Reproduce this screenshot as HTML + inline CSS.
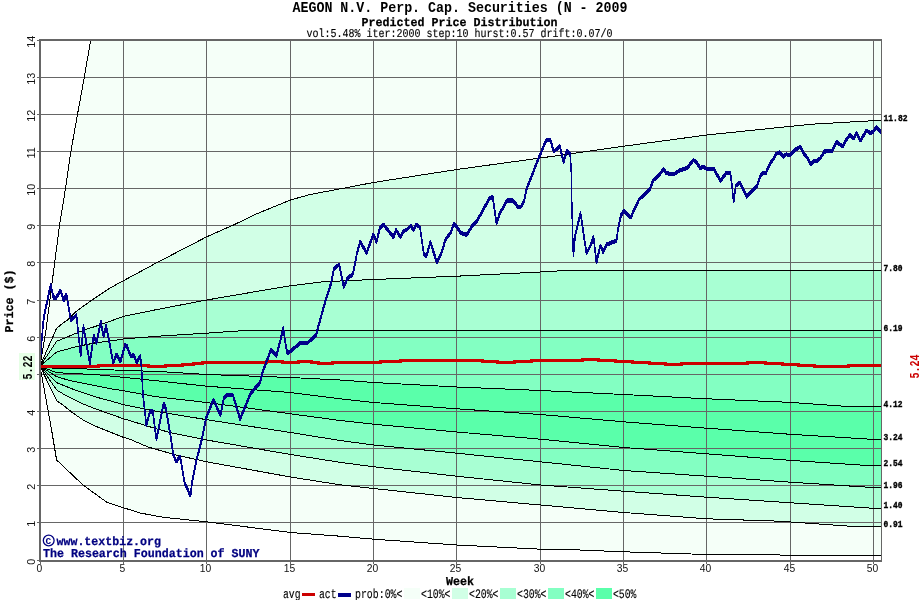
<!DOCTYPE html>
<html><head><meta charset="utf-8"><title>Predicted Price Distribution</title>
<style>html,body{margin:0;padding:0;background:#fff;}body{width:920px;height:600px;position:relative;overflow:hidden;font-family:"Liberation Sans",sans-serif;}</style></head>
<body>
<svg width="920" height="600" viewBox="0 0 920 600" style="position:absolute;left:0;top:0;will-change:transform;-webkit-font-smoothing:antialiased">
<defs><clipPath id="cp"><rect x="40" y="40" width="842" height="521"/></clipPath></defs>
<g shape-rendering="crispEdges" clip-path="url(#cp)">
<polygon points="40.0,366.1 46.0,330.0 56.7,247.0 59.5,225.3 65.5,188.4 70.9,151.4 77.5,114.3 84.3,77.1 90.7,40.0 881.0,40.0 881.0,120.5 873.7,120.7 815.0,124.0 790.6,126.3 706.8,135.0 623.8,146.2 540.5,158.0 456.8,169.5 373.4,182.5 330.0,190.8 310.0,194.5 290.5,200.0 255.0,214.5 235.0,224.3 206.7,236.8 157.5,262.3 123.3,280.8 110.0,288.0 92.0,300.0 76.0,311.5 68.7,319.0 64.0,322.5 56.7,328.0 40.0,366.1" fill="#F5FFF8"/>
<polygon points="40.0,366.1 56.7,328.0 64.0,322.5 68.7,319.0 76.0,311.5 92.0,300.0 110.0,288.0 123.3,280.8 157.5,262.3 206.7,236.8 235.0,224.3 255.0,214.5 290.5,200.0 310.0,194.5 330.0,190.8 373.4,182.5 456.8,169.5 540.5,158.0 623.8,146.2 706.8,135.0 790.6,126.3 815.0,124.0 873.7,120.7 881.0,120.5 881.0,270.3 600.0,270.3 560.0,270.8 540.5,272.0 456.8,276.2 373.4,279.5 322.5,281.8 290.5,285.8 265.0,290.0 206.7,300.0 156.0,309.7 123.3,316.4 112.0,320.6 100.0,324.6 96.0,326.2 85.3,329.6 76.0,333.3 56.7,341.3 40.0,366.1" fill="#D1FFE6"/>
<polygon points="40.0,366.1 56.7,341.3 76.0,333.3 85.3,329.6 96.0,326.2 100.0,324.6 112.0,320.6 123.3,316.4 156.0,309.7 206.7,300.0 265.0,290.0 290.5,285.8 322.5,281.8 373.4,279.5 456.8,276.2 540.5,272.0 560.0,270.8 600.0,270.3 881.0,270.3 881.0,330.3 247.5,330.3 206.7,333.2 157.5,336.2 123.3,339.0 110.0,341.0 96.0,342.7 76.0,346.7 56.7,352.0 40.0,366.1" fill="#A8FFD3"/>
<polygon points="40.0,366.1 56.7,352.0 76.0,346.7 96.0,342.7 110.0,341.0 123.3,339.0 157.5,336.2 206.7,333.2 247.5,330.3 881.0,330.3 881.0,406.5 848.0,406.5 790.6,402.4 706.8,398.8 623.8,394.5 540.5,390.5 456.8,387.0 373.8,382.5 340.0,380.0 290.5,377.5 206.7,374.5 156.0,371.3 130.0,370.7 123.3,370.2 114.0,370.0 82.0,368.8 56.7,368.7 40.0,366.1" fill="#83FFC2"/>
<polygon points="40.0,366.1 56.7,368.7 82.0,368.8 114.0,370.0 123.3,370.2 130.0,370.7 156.0,371.3 206.7,374.5 290.5,377.5 340.0,380.0 373.8,382.5 456.8,387.0 540.5,390.5 623.8,394.5 706.8,398.8 790.6,402.4 848.0,406.5 881.0,406.5 881.0,439.3 872.0,439.3 790.6,434.3 706.8,428.2 623.8,421.8 540.5,414.5 456.8,408.8 373.8,402.5 340.0,398.8 290.5,392.5 206.7,386.2 156.0,380.7 130.0,378.0 123.3,377.3 96.7,374.7 56.7,372.7 40.0,366.1" fill="#5AFFAA"/>
<polygon points="40.0,366.1 56.7,372.7 96.7,374.7 123.3,377.3 130.0,378.0 156.0,380.7 206.7,386.2 290.5,392.5 340.0,398.8 373.8,402.5 456.8,408.8 540.5,414.5 623.8,421.8 706.8,428.2 790.6,434.3 872.0,439.3 881.0,439.3 881.0,465.4 865.6,465.4 790.6,460.4 706.8,453.8 623.8,447.5 540.5,439.2 456.8,432.0 373.8,424.2 340.0,420.5 290.5,413.8 206.7,402.5 156.0,396.7 130.0,392.0 123.3,390.7 110.0,388.7 96.7,386.0 83.3,383.3 73.3,381.3 63.3,378.7 56.7,376.7 40.0,366.1" fill="#5AFFAA"/>
<polygon points="40.0,366.1 56.7,376.7 63.3,378.7 73.3,381.3 83.3,383.3 96.7,386.0 110.0,388.7 123.3,390.7 130.0,392.0 156.0,396.7 206.7,402.5 290.5,413.8 340.0,420.5 373.8,424.2 456.8,432.0 540.5,439.2 623.8,447.5 706.8,453.8 790.6,460.4 865.6,465.4 881.0,465.4 881.0,487.0 865.0,487.0 790.6,482.2 706.8,476.2 623.8,470.5 540.5,461.8 456.8,453.2 373.8,445.0 340.0,440.5 290.5,432.5 206.7,419.7 156.0,411.3 130.0,406.0 123.3,404.7 110.0,400.7 96.7,397.3 83.3,392.7 73.3,389.3 63.3,385.3 56.7,382.7 40.0,366.1" fill="#83FFC2"/>
<polygon points="40.0,366.1 56.7,382.7 63.3,385.3 73.3,389.3 83.3,392.7 96.7,397.3 110.0,400.7 123.3,404.7 130.0,406.0 156.0,411.3 206.7,419.7 290.5,432.5 340.0,440.5 373.8,445.0 456.8,453.2 540.5,461.8 623.8,470.5 706.8,476.2 790.6,482.2 865.0,487.0 881.0,487.0 881.0,508.2 872.0,508.2 790.6,502.8 706.8,497.2 623.8,491.2 540.5,485.0 456.8,476.2 373.8,466.8 340.0,462.3 290.5,454.5 206.7,440.0 172.0,433.0 156.0,428.7 130.0,420.7 123.3,418.7 110.0,414.0 96.7,409.3 83.3,404.0 73.3,399.3 63.3,394.0 56.7,390.0 40.0,366.1" fill="#A8FFD3"/>
<polygon points="40.0,366.1 56.7,390.0 63.3,394.0 73.3,399.3 83.3,404.0 96.7,409.3 110.0,414.0 123.3,418.7 130.0,420.7 156.0,428.7 172.0,433.0 206.7,440.0 290.5,454.5 340.0,462.3 373.8,466.8 456.8,476.2 540.5,485.0 623.8,491.2 706.8,497.2 790.6,502.8 872.0,508.2 881.0,508.2 881.0,526.2 850.0,526.2 780.0,521.2 706.8,518.8 623.8,512.5 540.5,505.0 456.8,497.5 373.8,488.5 340.0,484.8 290.5,477.0 206.7,461.8 176.0,455.0 148.0,447.0 130.0,439.3 123.3,437.3 110.0,432.0 96.7,426.7 83.3,420.0 73.3,413.3 63.3,405.3 56.7,400.7 40.0,366.1" fill="#D1FFE6"/>
<polygon points="40.0,366.1 56.7,400.7 63.3,405.3 73.3,413.3 83.3,420.0 96.7,426.7 110.0,432.0 123.3,437.3 130.0,439.3 148.0,447.0 176.0,455.0 206.7,461.8 290.5,477.0 340.0,484.8 373.8,488.5 456.8,497.5 540.5,505.0 623.8,512.5 706.8,518.8 780.0,521.2 850.0,526.2 881.0,526.2 881.0,555.0 780.0,555.0 706.8,554.5 623.8,551.8 560.0,549.2 540.5,549.2 456.8,545.0 373.8,539.2 340.0,536.2 290.5,532.5 206.7,521.8 164.0,517.4 140.0,513.0 124.0,507.9 107.0,502.4 83.0,485.0 56.6,460.0 51.6,430.0 40.0,366.1" fill="#F5FFF8"/>
</g>
<g shape-rendering="crispEdges" stroke="#666666" stroke-width="1" fill="none">
<line x1="123.5" y1="40" x2="123.5" y2="561"/>
<line x1="206.5" y1="40" x2="206.5" y2="561"/>
<line x1="290.5" y1="40" x2="290.5" y2="561"/>
<line x1="373.5" y1="40" x2="373.5" y2="561"/>
<line x1="456.5" y1="40" x2="456.5" y2="561"/>
<line x1="540.5" y1="40" x2="540.5" y2="561"/>
<line x1="623.5" y1="40" x2="623.5" y2="561"/>
<line x1="706.5" y1="40" x2="706.5" y2="561"/>
<line x1="790.5" y1="40" x2="790.5" y2="561"/>
<line x1="873.5" y1="40" x2="873.5" y2="561"/>
<line x1="40" y1="522.5" x2="882" y2="522.5"/>
<line x1="40" y1="485.5" x2="882" y2="485.5"/>
<line x1="40" y1="448.5" x2="882" y2="448.5"/>
<line x1="40" y1="411.5" x2="882" y2="411.5"/>
<line x1="40" y1="374.5" x2="882" y2="374.5"/>
<line x1="40" y1="337.5" x2="882" y2="337.5"/>
<line x1="40" y1="300.5" x2="882" y2="300.5"/>
<line x1="40" y1="262.5" x2="882" y2="262.5"/>
<line x1="40" y1="225.5" x2="882" y2="225.5"/>
<line x1="40" y1="188.5" x2="882" y2="188.5"/>
<line x1="40" y1="151.5" x2="882" y2="151.5"/>
<line x1="40" y1="114.5" x2="882" y2="114.5"/>
<line x1="40" y1="77.5" x2="882" y2="77.5"/>
</g>
<g shape-rendering="crispEdges" stroke="#000" stroke-width="1" fill="none" clip-path="url(#cp)">
<polyline points="40.0,366.1 46.0,330.0 56.7,247.0 59.5,225.3 65.5,188.4 70.9,151.4 77.5,114.3 84.3,77.1 90.7,40.0"/>
<polyline points="40.0,366.1 56.7,328.0 64.0,322.5 68.7,319.0 76.0,311.5 92.0,300.0 110.0,288.0 123.3,280.8 157.5,262.3 206.7,236.8 235.0,224.3 255.0,214.5 290.5,200.0 310.0,194.5 330.0,190.8 373.4,182.5 456.8,169.5 540.5,158.0 623.8,146.2 706.8,135.0 790.6,126.3 815.0,124.0 873.7,120.7 881.0,120.5"/>
<polyline points="40.0,366.1 56.7,341.3 76.0,333.3 85.3,329.6 96.0,326.2 100.0,324.6 112.0,320.6 123.3,316.4 156.0,309.7 206.7,300.0 265.0,290.0 290.5,285.8 322.5,281.8 373.4,279.5 456.8,276.2 540.5,272.0 560.0,270.8 600.0,270.3 881.0,270.3"/>
<polyline points="40.0,366.1 56.7,352.0 76.0,346.7 96.0,342.7 110.0,341.0 123.3,339.0 157.5,336.2 206.7,333.2 247.5,330.3 881.0,330.3"/>
<polyline points="40.0,366.1 56.7,368.7 82.0,368.8 114.0,370.0 123.3,370.2 130.0,370.7 156.0,371.3 206.7,374.5 290.5,377.5 340.0,380.0 373.8,382.5 456.8,387.0 540.5,390.5 623.8,394.5 706.8,398.8 790.6,402.4 848.0,406.5 881.0,406.5"/>
<polyline points="40.0,366.1 56.7,372.7 96.7,374.7 123.3,377.3 130.0,378.0 156.0,380.7 206.7,386.2 290.5,392.5 340.0,398.8 373.8,402.5 456.8,408.8 540.5,414.5 623.8,421.8 706.8,428.2 790.6,434.3 872.0,439.3 881.0,439.3"/>
<polyline points="40.0,366.1 56.7,376.7 63.3,378.7 73.3,381.3 83.3,383.3 96.7,386.0 110.0,388.7 123.3,390.7 130.0,392.0 156.0,396.7 206.7,402.5 290.5,413.8 340.0,420.5 373.8,424.2 456.8,432.0 540.5,439.2 623.8,447.5 706.8,453.8 790.6,460.4 865.6,465.4 881.0,465.4"/>
<polyline points="40.0,366.1 56.7,382.7 63.3,385.3 73.3,389.3 83.3,392.7 96.7,397.3 110.0,400.7 123.3,404.7 130.0,406.0 156.0,411.3 206.7,419.7 290.5,432.5 340.0,440.5 373.8,445.0 456.8,453.2 540.5,461.8 623.8,470.5 706.8,476.2 790.6,482.2 865.0,487.0 881.0,487.0"/>
<polyline points="40.0,366.1 56.7,390.0 63.3,394.0 73.3,399.3 83.3,404.0 96.7,409.3 110.0,414.0 123.3,418.7 130.0,420.7 156.0,428.7 172.0,433.0 206.7,440.0 290.5,454.5 340.0,462.3 373.8,466.8 456.8,476.2 540.5,485.0 623.8,491.2 706.8,497.2 790.6,502.8 872.0,508.2 881.0,508.2"/>
<polyline points="40.0,366.1 56.7,400.7 63.3,405.3 73.3,413.3 83.3,420.0 96.7,426.7 110.0,432.0 123.3,437.3 130.0,439.3 148.0,447.0 176.0,455.0 206.7,461.8 290.5,477.0 340.0,484.8 373.8,488.5 456.8,497.5 540.5,505.0 623.8,512.5 706.8,518.8 780.0,521.2 850.0,526.2 881.0,526.2"/>
<polyline points="40.0,366.1 51.6,430.0 56.6,460.0 83.0,485.0 107.0,502.4 124.0,507.9 140.0,513.0 164.0,517.4 206.7,521.8 290.5,532.5 340.0,536.2 373.8,539.2 456.8,545.0 540.5,549.2 560.0,549.2 623.8,551.8 706.8,554.5 780.0,555.0 881.0,555.0"/>
</g>
<polyline shape-rendering="crispEdges" points="40.0,366.5 98.0,366.5 98.0,365.5 148.0,365.5 148.0,366.5 165.3,366.5 165.3,365.5 182.4,365.5 182.4,364.5 193.8,364.5 193.8,363.5 202.8,363.5 202.8,362.5 266.4,362.5 266.4,361.5 282.0,361.5 282.0,362.5 298.0,362.5 298.0,361.5 311.0,361.5 311.0,362.5 318.0,362.5 318.0,363.5 332.0,363.5 332.0,362.5 380.0,362.5 380.0,361.5 400.0,361.5 400.0,360.5 482.0,360.5 482.0,361.5 497.5,361.5 497.5,362.5 514.5,362.5 514.5,361.5 531.5,361.5 531.5,360.5 582.0,360.5 582.0,359.5 598.0,359.5 598.0,360.5 615.0,360.5 615.0,361.5 632.0,361.5 632.0,362.5 649.0,362.5 649.0,363.5 665.0,363.5 665.0,364.5 681.0,364.5 681.0,363.5 747.0,363.5 747.0,362.5 765.0,362.5 765.0,363.5 782.0,363.5 782.0,364.5 798.0,364.5 798.0,365.5 814.5,365.5 814.5,366.5 848.0,366.5 848.0,365.5 882.0,365.5" fill="none" stroke="#CC0000" stroke-width="3" stroke-linejoin="miter"/>
<g shape-rendering="crispEdges" fill="none" stroke="#00008B" stroke-linejoin="bevel" stroke-linecap="butt">
<polyline points="40.0,364.6 41.4,343.6 43.1,322.1 44.7,311.2 47.4,299.3 50.7,283.5 53.4,296.0 56.1,296.5 60.5,288.9 63.7,299.3 66.4,292.7 70.8,318.8 74.0,316.1 76.4,313.6 80.7,354.5 83.4,324.6 89.9,362.1 93.7,333.8 96.4,342.0 100.8,320.2 103.5,334.9 106.2,324.6 113.3,361.5 116.5,352.8 120.3,360.4 125.2,343.6 126.8,344.6 130.7,354.5 133.9,353.9 136.6,361.0 140.4,354.5 141.5,366.4 143.0,393.2 146.3,423.6 150.1,410.0 152.8,410.0 156.4,438.1 163.7,401.9 165.9,407.3 170.4,433.6 173.2,453.2 176.4,460.2 180.2,454.8 181.8,465.1 184.6,481.4 190.5,494.5 192.2,480.3 196.5,458.6 201.7,438.6 205.9,417.3 213.5,398.3 220.5,414.0 223.8,396.6 226.5,393.9 233.0,393.9 240.1,417.8 250.4,392.3 255.9,385.8 260.1,381.0 262.8,370.1 271.0,348.4 276.4,354.4 280.2,339.7 283.3,326.4 285.2,340.6 287.3,351.6 291.1,349.5 299.8,341.9 307.7,341.3 316.0,333.8 318.2,325.6 325.7,298.6 331.0,282.1 334.0,267.1 339.2,263.3 343.7,285.8 347.5,276.8 352.7,273.1 355.0,262.6 357.0,251.4 360.2,240.6 366.7,251.4 373.3,232.9 376.5,240.6 379.8,227.0 383.6,223.2 393.4,235.7 396.1,228.6 400.4,235.7 403.7,229.7 407.0,228.1 410.8,224.3 413.5,228.6 416.2,223.2 420.0,225.9 423.8,252.5 426.5,254.7 430.3,240.6 436.8,260.7 441.0,253.1 445.5,238.1 450.7,231.3 453.7,222.3 456.7,225.3 460.5,231.3 466.5,233.6 473.2,223.1 476.2,220.8 483.0,208.8 489.0,197.6 492.7,195.3 496.5,222.3 499.5,212.6 507.0,199.1 513.0,199.1 518.2,205.8 521.2,205.1 524.2,199.1 526.5,187.8 538.0,158.4 546.2,138.8 550.5,138.8 553.8,150.2 559.8,144.8 563.6,160.6 566.8,149.1 570.1,152.4 571.2,169.3 571.8,201.1 572.7,234.1 573.4,254.3 575.2,234.1 580.5,211.6 586.5,252.1 591.0,243.1 593.5,235.6 596.5,261.1 600.4,243.8 603.0,250.6 606.7,243.1 616.5,239.3 618.0,228.1 621.0,213.8 624.0,209.3 630.7,216.1 633.7,209.3 639.0,198.1 645.0,192.4 649.9,188.1 653.2,178.8 659.1,173.9 663.5,167.4 666.2,171.8 673.8,172.8 679.8,169.0 687.4,166.3 693.4,158.7 696.1,160.3 700.4,166.9 703.2,165.2 707.0,167.9 714.0,167.9 720.5,179.4 726.5,171.2 730.3,171.2 732.0,184.3 733.6,200.6 735.8,184.3 739.6,181.0 746.7,195.4 752.5,189.0 756.6,185.5 760.1,175.6 762.4,171.5 765.9,171.5 770.0,162.2 773.5,157.5 776.4,152.3 779.9,151.1 783.4,155.2 786.3,152.9 789.8,154.0 795.7,148.2 800.3,145.3 804.4,152.9 807.3,156.4 810.8,162.8 813.8,159.9 816.7,159.9 820.2,156.9 824.5,150.1 832.0,149.6 836.5,140.6 843.0,145.1 846.0,138.6 850.0,133.6 853.5,137.1 856.5,131.6 860.5,139.1 866.5,129.1 870.0,131.6 873.0,130.6 876.5,125.6 881.0,130.6" stroke-width="1.4"/>
<polyline points="40.0,365.5 41.4,344.5 43.1,323.0 44.7,312.1 47.4,300.2 50.7,284.4 53.4,296.9 56.1,297.4 60.5,289.8 63.7,300.2 66.4,293.6 70.8,319.7 74.0,317.0 76.4,314.5 80.7,355.4 83.4,325.5 89.9,363.0 93.7,334.7 96.4,342.9 100.8,321.1 103.5,335.8 106.2,325.5 113.3,362.4 116.5,353.7 120.3,361.3 125.2,344.5 126.8,345.5 130.7,355.4 133.9,354.8 136.6,361.9 140.4,355.4 141.5,367.3 143.0,394.1 146.3,424.5 150.1,410.9 152.8,410.9 156.4,439.0 163.7,402.8 165.9,408.2 170.4,434.5 173.2,454.1 176.4,461.1 180.2,455.7 181.8,466.0 184.6,482.3 190.5,495.4 192.2,481.2 196.5,459.5 201.7,439.5 205.9,418.2 213.5,399.2 220.5,414.9 223.8,397.5 226.5,394.8 233.0,394.8 240.1,418.7 250.4,393.2 255.9,386.7 260.1,381.9 262.8,371.0 271.0,349.3 276.4,355.3 280.2,340.6 283.3,327.3 285.2,341.5 287.3,352.5 291.1,350.4 299.8,342.8 307.7,342.2 316.0,334.7 318.2,326.5 325.7,299.5 331.0,283.0 334.0,268.0 339.2,264.2 343.7,286.7 347.5,277.7 352.7,274.0 355.0,263.5 357.0,252.3 360.2,241.5 366.7,252.3 373.3,233.8 376.5,241.5 379.8,227.9 383.6,224.1 393.4,236.6 396.1,229.5 400.4,236.6 403.7,230.6 407.0,229.0 410.8,225.2 413.5,229.5 416.2,224.1 420.0,226.8 423.8,253.4 426.5,255.6 430.3,241.5 436.8,261.6 441.0,254.0 445.5,239.0 450.7,232.2 453.7,223.2 456.7,226.2 460.5,232.2 466.5,234.5 473.2,224.0 476.2,221.7 483.0,209.7 489.0,198.5 492.7,196.2 496.5,223.2 499.5,213.5 507.0,200.0 513.0,200.0 518.2,206.7 521.2,206.0 524.2,200.0 526.5,188.7 538.0,159.3 546.2,139.7 550.5,139.7 553.8,151.1 559.8,145.7 563.6,161.5 566.8,150.0 570.1,153.3 571.2,170.2 571.8,202.0 572.7,235.0 573.4,255.2 575.2,235.0 580.5,212.5 586.5,253.0 591.0,244.0 593.5,236.5 596.5,262.0 600.4,244.7 603.0,251.5 606.7,244.0 616.5,240.2 618.0,229.0 621.0,214.7 624.0,210.2 630.7,217.0 633.7,210.2 639.0,199.0 645.0,193.3 649.9,189.0 653.2,179.7 659.1,174.8 663.5,168.3 666.2,172.7 673.8,173.7 679.8,169.9 687.4,167.2 693.4,159.6 696.1,161.2 700.4,167.8 703.2,166.1 707.0,168.8 714.0,168.8 720.5,180.3 726.5,172.1 730.3,172.1 732.0,185.2 733.6,201.5 735.8,185.2 739.6,181.9 746.7,196.3 752.5,189.9 756.6,186.4 760.1,176.5 762.4,172.4 765.9,172.4 770.0,163.1 773.5,158.4 776.4,153.2 779.9,152.0 783.4,156.1 786.3,153.8 789.8,154.9 795.7,149.1 800.3,146.2 804.4,153.8 807.3,157.3 810.8,163.7 813.8,160.8 816.7,160.8 820.2,157.8 824.5,151.0 832.0,150.5 836.5,141.5 843.0,146.0 846.0,139.5 850.0,134.5 853.5,138.0 856.5,132.5 860.5,140.0 866.5,130.0 870.0,132.5 873.0,131.5 876.5,126.5 881.0,131.5" stroke-width="1.4"/>
<polyline points="40.0,366.5 41.4,345.5 43.1,324.0 44.7,313.1 47.4,301.2 50.7,285.4 53.4,297.9 56.1,298.4 60.5,290.8 63.7,301.2 66.4,294.6 70.8,320.7 74.0,318.0 76.4,315.5 80.7,356.4 83.4,326.5 89.9,364.0 93.7,335.7 96.4,343.9 100.8,322.1 103.5,336.8 106.2,326.5 113.3,363.4 116.5,354.7 120.3,362.3 125.2,345.5 126.8,346.5 130.7,356.4 133.9,355.8 136.6,362.9 140.4,356.4 141.5,368.3 143.0,395.1 146.3,425.5 150.1,411.9 152.8,411.9 156.4,440.0 163.7,403.8 165.9,409.2 170.4,435.5 173.2,455.1 176.4,462.1 180.2,456.7 181.8,467.0 184.6,483.3 190.5,496.4 192.2,482.2 196.5,460.5 201.7,440.5 205.9,419.2 213.5,400.2 220.5,415.9 223.8,398.5 226.5,395.8 233.0,395.8 240.1,419.7 250.4,394.2 255.9,387.7 260.1,382.9 262.8,372.0 271.0,350.3 276.4,356.3 280.2,341.6 283.3,328.3 285.2,342.5 287.3,353.5 291.1,351.4 299.8,343.8 307.7,343.2 316.0,335.7 318.2,327.5 325.7,300.5 331.0,284.0 334.0,269.0 339.2,265.2 343.7,287.7 347.5,278.7 352.7,275.0 355.0,264.5 357.0,253.3 360.2,242.5 366.7,253.3 373.3,234.8 376.5,242.5 379.8,228.9 383.6,225.1 393.4,237.6 396.1,230.5 400.4,237.6 403.7,231.6 407.0,230.0 410.8,226.2 413.5,230.5 416.2,225.1 420.0,227.8 423.8,254.4 426.5,256.6 430.3,242.5 436.8,262.6 441.0,255.0 445.5,240.0 450.7,233.2 453.7,224.2 456.7,227.2 460.5,233.2 466.5,235.5 473.2,225.0 476.2,222.7 483.0,210.7 489.0,199.5 492.7,197.2 496.5,224.2 499.5,214.5 507.0,201.0 513.0,201.0 518.2,207.7 521.2,207.0 524.2,201.0 526.5,189.7 538.0,160.3 546.2,140.7 550.5,140.7 553.8,152.1 559.8,146.7 563.6,162.5 566.8,151.0 570.1,154.3 571.2,171.2 571.8,203.0 572.7,236.0 573.4,256.2 575.2,236.0 580.5,213.5 586.5,254.0 591.0,245.0 593.5,237.5 596.5,263.0 600.4,245.7 603.0,252.5 606.7,245.0 616.5,241.2 618.0,230.0 621.0,215.7 624.0,211.2 630.7,218.0 633.7,211.2 639.0,200.0 645.0,194.3 649.9,190.0 653.2,180.7 659.1,175.8 663.5,169.3 666.2,173.7 673.8,174.7 679.8,170.9 687.4,168.2 693.4,160.6 696.1,162.2 700.4,168.8 703.2,167.1 707.0,169.8 714.0,169.8 720.5,181.3 726.5,173.1 730.3,173.1 732.0,186.2 733.6,202.5 735.8,186.2 739.6,182.9 746.7,197.3 752.5,190.9 756.6,187.4 760.1,177.5 762.4,173.4 765.9,173.4 770.0,164.1 773.5,159.4 776.4,154.2 779.9,153.0 783.4,157.1 786.3,154.8 789.8,155.9 795.7,150.1 800.3,147.2 804.4,154.8 807.3,158.3 810.8,164.7 813.8,161.8 816.7,161.8 820.2,158.8 824.5,152.0 832.0,151.5 836.5,142.5 843.0,147.0 846.0,140.5 850.0,135.5 853.5,139.0 856.5,133.5 860.5,141.0 866.5,131.0 870.0,133.5 873.0,132.5 876.5,127.5 881.0,132.5" stroke-width="1.4"/>
<polyline points="40.0,367.4 41.4,346.4 43.1,324.9 44.7,314.0 47.4,302.1 50.7,286.3 53.4,298.8 56.1,299.3 60.5,291.7 63.7,302.1 66.4,295.5 70.8,321.6 74.0,318.9 76.4,316.4 80.7,357.3 83.4,327.4 89.9,364.9 93.7,336.6 96.4,344.8 100.8,323.0 103.5,337.7 106.2,327.4 113.3,364.3 116.5,355.6 120.3,363.2 125.2,346.4 126.8,347.4 130.7,357.3 133.9,356.7 136.6,363.8 140.4,357.3 141.5,369.2 143.0,396.0 146.3,426.4 150.1,412.8 152.8,412.8 156.4,440.9 163.7,404.7 165.9,410.1 170.4,436.4 173.2,456.0 176.4,463.0 180.2,457.6 181.8,467.9 184.6,484.2 190.5,497.3 192.2,483.1 196.5,461.4 201.7,441.4 205.9,420.1 213.5,401.1 220.5,416.8 223.8,399.4 226.5,396.7 233.0,396.7 240.1,420.6 250.4,395.1 255.9,388.6 260.1,383.8 262.8,372.9 271.0,351.2 276.4,357.2 280.2,342.5 283.3,329.2 285.2,343.4 287.3,354.4 291.1,352.3 299.8,344.7 307.7,344.1 316.0,336.6 318.2,328.4 325.7,301.4 331.0,284.9 334.0,269.9 339.2,266.1 343.7,288.6 347.5,279.6 352.7,275.9 355.0,265.4 357.0,254.2 360.2,243.4 366.7,254.2 373.3,235.7 376.5,243.4 379.8,229.8 383.6,226.0 393.4,238.5 396.1,231.4 400.4,238.5 403.7,232.5 407.0,230.9 410.8,227.1 413.5,231.4 416.2,226.0 420.0,228.7 423.8,255.3 426.5,257.5 430.3,243.4 436.8,263.5 441.0,255.9 445.5,240.9 450.7,234.1 453.7,225.1 456.7,228.1 460.5,234.1 466.5,236.4 473.2,225.9 476.2,223.6 483.0,211.6 489.0,200.4 492.7,198.1 496.5,225.1 499.5,215.4 507.0,201.9 513.0,201.9 518.2,208.6 521.2,207.9 524.2,201.9 526.5,190.6 538.0,161.2 546.2,141.6 550.5,141.6 553.8,153.0 559.8,147.6 563.6,163.4 566.8,151.9 570.1,155.2 571.2,172.1 571.8,203.9 572.7,236.9 573.4,257.1 575.2,236.9 580.5,214.4 586.5,254.9 591.0,245.9 593.5,238.4 596.5,263.9 600.4,246.6 603.0,253.4 606.7,245.9 616.5,242.1 618.0,230.9 621.0,216.6 624.0,212.1 630.7,218.9 633.7,212.1 639.0,200.9 645.0,195.2 649.9,190.9 653.2,181.6 659.1,176.7 663.5,170.2 666.2,174.6 673.8,175.6 679.8,171.8 687.4,169.1 693.4,161.5 696.1,163.1 700.4,169.7 703.2,168.0 707.0,170.7 714.0,170.7 720.5,182.2 726.5,174.0 730.3,174.0 732.0,187.1 733.6,203.4 735.8,187.1 739.6,183.8 746.7,198.2 752.5,191.8 756.6,188.3 760.1,178.4 762.4,174.3 765.9,174.3 770.0,165.0 773.5,160.3 776.4,155.1 779.9,153.9 783.4,158.0 786.3,155.7 789.8,156.8 795.7,151.0 800.3,148.1 804.4,155.7 807.3,159.2 810.8,165.6 813.8,162.7 816.7,162.7 820.2,159.7 824.5,152.9 832.0,152.4 836.5,143.4 843.0,147.9 846.0,141.4 850.0,136.4 853.5,139.9 856.5,134.4 860.5,141.9 866.5,131.9 870.0,134.4 873.0,133.4 876.5,128.4 881.0,133.4" stroke-width="1.4"/>
</g>
<g shape-rendering="crispEdges" fill="#666666">
<rect x="39" y="39" width="2" height="523"/>
<rect x="39" y="39" width="843" height="2"/>
<rect x="39" y="560" width="843" height="2"/>
<rect x="881" y="39" width="1" height="523"/>
<rect x="37" y="560" width="2" height="1"/>
<rect x="37" y="522" width="2" height="1"/>
<rect x="37" y="485" width="2" height="1"/>
<rect x="37" y="448" width="2" height="1"/>
<rect x="37" y="411" width="2" height="1"/>
<rect x="37" y="374" width="2" height="1"/>
<rect x="37" y="337" width="2" height="1"/>
<rect x="37" y="300" width="2" height="1"/>
<rect x="37" y="262" width="2" height="1"/>
<rect x="37" y="225" width="2" height="1"/>
<rect x="37" y="188" width="2" height="1"/>
<rect x="37" y="151" width="2" height="1"/>
<rect x="37" y="114" width="2" height="1"/>
<rect x="37" y="77" width="2" height="1"/>
<rect x="37" y="40" width="2" height="1"/>
<rect x="40" y="562" width="1" height="2"/>
<rect x="123" y="562" width="1" height="2"/>
<rect x="206" y="562" width="1" height="2"/>
<rect x="290" y="562" width="1" height="2"/>
<rect x="373" y="562" width="1" height="2"/>
<rect x="456" y="562" width="1" height="2"/>
<rect x="540" y="562" width="1" height="2"/>
<rect x="623" y="562" width="1" height="2"/>
<rect x="706" y="562" width="1" height="2"/>
<rect x="790" y="562" width="1" height="2"/>
<rect x="873" y="562" width="1" height="2"/>
</g>
<g font-family="Liberation Sans, sans-serif" font-size="10.3px" fill="#111">
<text x="39.4" y="572" text-anchor="middle">0</text>
<text x="122.4" y="572" text-anchor="middle">5</text>
<text x="205.4" y="572" text-anchor="middle">10</text>
<text x="289.4" y="572" text-anchor="middle">15</text>
<text x="372.4" y="572" text-anchor="middle">20</text>
<text x="455.4" y="572" text-anchor="middle">25</text>
<text x="539.4" y="572" text-anchor="middle">30</text>
<text x="622.4" y="572" text-anchor="middle">35</text>
<text x="705.4" y="572" text-anchor="middle">40</text>
<text x="789.4" y="572" text-anchor="middle">45</text>
<text x="872.4" y="572" text-anchor="middle">50</text>
<text transform="translate(35,561.8) rotate(-90)" text-anchor="middle" font-size="10.8px">0</text>
<text transform="translate(35,523.8) rotate(-90)" text-anchor="middle" font-size="10.8px">1</text>
<text transform="translate(35,486.8) rotate(-90)" text-anchor="middle" font-size="10.8px">2</text>
<text transform="translate(35,449.8) rotate(-90)" text-anchor="middle" font-size="10.8px">3</text>
<text transform="translate(35,412.8) rotate(-90)" text-anchor="middle" font-size="10.8px">4</text>
<text transform="translate(35,338.8) rotate(-90)" text-anchor="middle" font-size="10.8px">6</text>
<text transform="translate(35,301.8) rotate(-90)" text-anchor="middle" font-size="10.8px">7</text>
<text transform="translate(35,263.8) rotate(-90)" text-anchor="middle" font-size="10.8px">8</text>
<text transform="translate(35,226.8) rotate(-90)" text-anchor="middle" font-size="10.8px">9</text>
<text transform="translate(35,189.8) rotate(-90)" text-anchor="middle" font-size="10.8px">10</text>
<text transform="translate(35,152.8) rotate(-90)" text-anchor="middle" font-size="10.8px">11</text>
<text transform="translate(35,115.8) rotate(-90)" text-anchor="middle" font-size="10.8px">12</text>
<text transform="translate(35,78.8) rotate(-90)" text-anchor="middle" font-size="10.8px">13</text>
<text transform="translate(35,41.8) rotate(-90)" text-anchor="middle" font-size="10.8px">14</text>
</g>
<g font-family="Liberation Mono, monospace" font-size="8.6px" font-weight="bold" fill="#000" stroke="#000" stroke-width="0.35">
<text x="883.5" y="121.0" textLength="24" lengthAdjust="spacingAndGlyphs">11.82</text>
<text x="883.5" y="270.8" textLength="19" lengthAdjust="spacingAndGlyphs">7.80</text>
<text x="883.5" y="330.8" textLength="19" lengthAdjust="spacingAndGlyphs">6.19</text>
<text x="883.5" y="407.0" textLength="19" lengthAdjust="spacingAndGlyphs">4.12</text>
<text x="883.5" y="439.8" textLength="19" lengthAdjust="spacingAndGlyphs">3.24</text>
<text x="883.5" y="465.9" textLength="19" lengthAdjust="spacingAndGlyphs">2.54</text>
<text x="883.5" y="487.5" textLength="19" lengthAdjust="spacingAndGlyphs">1.96</text>
<text x="883.5" y="508.3" textLength="19" lengthAdjust="spacingAndGlyphs">1.40</text>
<text x="883.5" y="526.7" textLength="19" lengthAdjust="spacingAndGlyphs">0.91</text>
</g>
<g font-family="Liberation Mono, monospace" fill="#000">
<text transform="translate(292.5,11.6) scale(1,1.12)" x="0" y="0" font-size="13.33px" font-weight="bold" textLength="335" lengthAdjust="spacing">AEGON N.V. Perp. Cap. Securities (N - 2009</text>
<text transform="translate(361.5,26) rotate(0.03) scale(1,1.03)" x="0" y="0" font-size="11.67px" font-weight="bold" stroke="#000" stroke-width="0.25" textLength="196" lengthAdjust="spacingAndGlyphs">Predicted Price Distribution</text>
<text transform="translate(306.5,37) rotate(0.03) scale(1,1.2)" x="0" y="0" font-size="10px" stroke="#000" stroke-width="0.12" textLength="306" lengthAdjust="spacingAndGlyphs">vol:5.48% iter:2000 step:10 hurst:0.57 drift:0.07/0</text>
<text transform="translate(446,585) rotate(0.03) scale(1,1.03)" x="0" y="0" font-size="11.67px" font-weight="bold" stroke="#000" stroke-width="0.25" textLength="28" lengthAdjust="spacingAndGlyphs">Week</text>
<text transform="translate(13,332.5) rotate(-90.03) scale(1,1.03)" font-size="11.67px" font-weight="bold" stroke="#000" stroke-width="0.25" textLength="63" lengthAdjust="spacingAndGlyphs">Price ($)</text>
</g>
<rect x="19" y="353" width="16" height="27" fill="#E6FFE6" shape-rendering="crispEdges"/>
<text transform="translate(32,379.5) rotate(-90)" font-family="Liberation Mono, monospace" font-size="12px" font-weight="bold" fill="#000" textLength="24" lengthAdjust="spacingAndGlyphs">5.22</text>
<text transform="translate(919,378.5) rotate(-90)" font-family="Liberation Mono, monospace" font-size="12px" font-weight="bold" fill="#CC0000" textLength="24" lengthAdjust="spacingAndGlyphs">5.24</text>
<g font-family="Liberation Mono, monospace" font-size="11.67px" font-weight="bold" fill="#000080">
<circle cx="48.7" cy="540.5" r="5.4" fill="none" stroke="#000080" stroke-width="1.3"/>
<text x="45.5" y="544" font-size="9.5px">C</text>
<text transform="translate(56.5,545) rotate(0.03) scale(1,1.03)" x="0" y="0" stroke="#000080" stroke-width="0.25" textLength="104.5" lengthAdjust="spacingAndGlyphs">www.textbiz.org</text>
<text transform="translate(43,557) rotate(0.03) scale(1,1.03)" x="0" y="0" stroke="#000080" stroke-width="0.25" textLength="216.5" lengthAdjust="spacingAndGlyphs">The Research Foundation of SUNY</text>
</g>
<g font-family="Liberation Mono, monospace" font-size="10px" fill="#000" stroke="#000" stroke-width="0.1">
<text transform="translate(283.0,598) rotate(0.03) scale(1,1.3)" x="0" y="0" textLength="17.5" lengthAdjust="spacingAndGlyphs">avg</text>
<text transform="translate(319.0,598) rotate(0.03) scale(1,1.3)" x="0" y="0" textLength="17.5" lengthAdjust="spacingAndGlyphs">act</text>
<text transform="translate(355.0,598) rotate(0.03) scale(1,1.3)" x="0" y="0" textLength="47.5" lengthAdjust="spacingAndGlyphs">prob:0%&lt;</text>
<text transform="translate(421.0,598) rotate(0.03) scale(1,1.3)" x="0" y="0" textLength="29.5" lengthAdjust="spacingAndGlyphs">&lt;10%&lt;</text>
<text transform="translate(469.0,598) rotate(0.03) scale(1,1.3)" x="0" y="0" textLength="29.5" lengthAdjust="spacingAndGlyphs">&lt;20%&lt;</text>
<text transform="translate(517.0,598) rotate(0.03) scale(1,1.3)" x="0" y="0" textLength="29.5" lengthAdjust="spacingAndGlyphs">&lt;30%&lt;</text>
<text transform="translate(565.0,598) rotate(0.03) scale(1,1.3)" x="0" y="0" textLength="29.5" lengthAdjust="spacingAndGlyphs">&lt;40%&lt;</text>
<text transform="translate(613.0,598) rotate(0.03) scale(1,1.3)" x="0" y="0" textLength="23.5" lengthAdjust="spacingAndGlyphs">&lt;50%</text>
</g>
<g shape-rendering="crispEdges">
<rect x="302" y="593" width="13" height="3" fill="#CC0000"/>
<rect x="338" y="593" width="13" height="4" fill="#00008B"/>
<rect x="404" y="588" width="16" height="11" fill="#F5FFF8"/>
<rect x="452" y="588" width="16" height="11" fill="#D1FFE6"/>
<rect x="500" y="588" width="16" height="11" fill="#A8FFD3"/>
<rect x="548" y="588" width="16" height="11" fill="#83FFC2"/>
<rect x="596" y="588" width="16" height="11" fill="#5AFFAA"/>
</g>
</svg>
</body></html>
